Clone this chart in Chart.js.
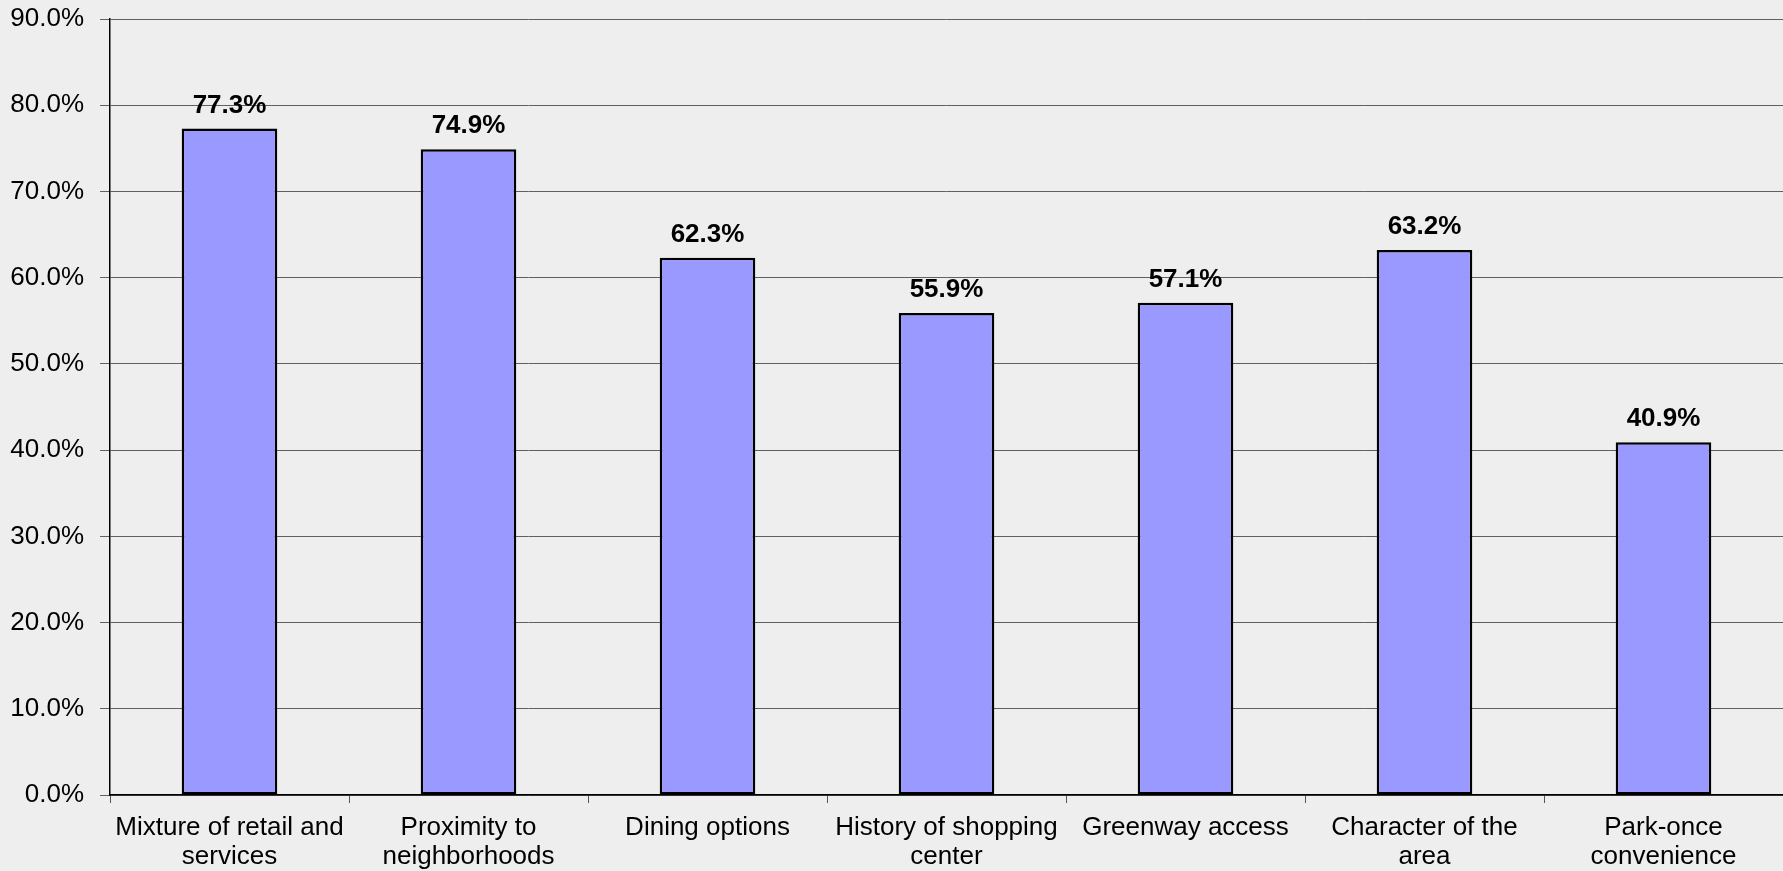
<!DOCTYPE html>
<html>
<head>
<meta charset="utf-8">
<script src="https://cdn.jsdelivr.net/npm/chart.js@4/dist/chart.umd.min.js"></script>
<style>
  html, body { margin: 0; padding: 0; background: #eeeeee; }
  #wrap { width: 1783px; height: 871px; position: relative; }
</style>
</head>
<body>
<div id="wrap"><canvas id="c"></canvas></div>
<script>
// Share of respondents rating each attribute as important
const categories = [
  ['Mixture of retail and', 'services'],
  ['Proximity to', 'neighborhoods'],
  'Dining options',
  ['History of shopping', 'center'],
  'Greenway access',
  ['Character of the', 'area'],
  ['Park-once', 'convenience']
];
const values = [77.3, 74.9, 62.3, 55.9, 57.1, 63.2, 40.9];
const yTicks = [0, 10, 20, 30, 40, 50, 60, 70, 80, 90];

const FONT = '"Liberation Sans", Arial, sans-serif';

// Writes the percentage above each bar, using the bar's own position
const valueLabels = {
  id: 'valueLabels',
  afterDatasetsDraw(chart) {
    const ctx = chart.ctx;
    const meta = chart.getDatasetMeta(0);
    ctx.save();
    ctx.font = 'bold 26px ' + FONT;
    ctx.fillStyle = '#000';
    ctx.textAlign = 'center';
    ctx.textBaseline = 'alphabetic';
    meta.data.forEach((bar, i) => {
      ctx.fillText(values[i].toFixed(1) + '%', bar.x, bar.y - 16);
    });
    ctx.restore();
  }
};

const background = {
  id: 'background',
  beforeDraw(chart) {
    const ctx = chart.ctx;
    ctx.save();
    ctx.fillStyle = '#eeeeee';
    ctx.fillRect(0, 0, chart.width, chart.height);
    ctx.restore();
  }
};

new Chart(document.getElementById('c'), {
  type: 'bar',
  data: {
    labels: categories,
    datasets: [{
      data: values,
      backgroundColor: '#9999ff',
      borderColor: '#000000',
      borderWidth: 2.5,
      borderSkipped: false,
      barPercentage: 0.4,
      categoryPercentage: 1.0
    }]
  },
  options: {
    responsive: true,
    maintainAspectRatio: false,
    animation: false,
    layout: { padding: { top: 19, right: 0, left: 0, bottom: 0 } },
    plugins: {
      legend: { display: false },
      tooltip: { enabled: false }
    },
    scales: {
      x: {
        offset: true,
        grid: {
          offset: true,
          drawOnChartArea: false,
          drawTicks: true,
          tickLength: 8,
          color: '#555555',
          lineWidth: 1
        },
        border: { color: '#000000', width: 1.5 },
        ticks: {
          color: '#000000',
          font: { family: FONT, size: 26, lineHeight: 1.13 },
          padding: 10,
          maxRotation: 0,
          autoSkip: false
        },
        afterFit(scale) {
          scale.height = 76;
          scale.paddingLeft = 0;
          scale.paddingRight = 0;
        }
      },
      y: {
        min: 0,
        max: 90,
        afterBuildTicks(scale) {
          scale.ticks = yTicks.map(v => ({ value: v }));
        },
        grid: {
          color: '#606060',
          lineWidth: 1,
          drawTicks: true,
          tickLength: 10
        },
        border: { color: '#000000', width: 1.5 },
        ticks: {
          color: '#000000',
          font: { family: FONT, size: 26 },
          padding: 16,
          callback: v => v.toFixed(1) + '%'
        },
        afterFit(scale) {
          scale.width = 110;
          scale.paddingTop = 0;
          scale.paddingBottom = 0;
        }
      }
    }
  },
  plugins: [background, valueLabels]
});
</script>
</body>
</html>
